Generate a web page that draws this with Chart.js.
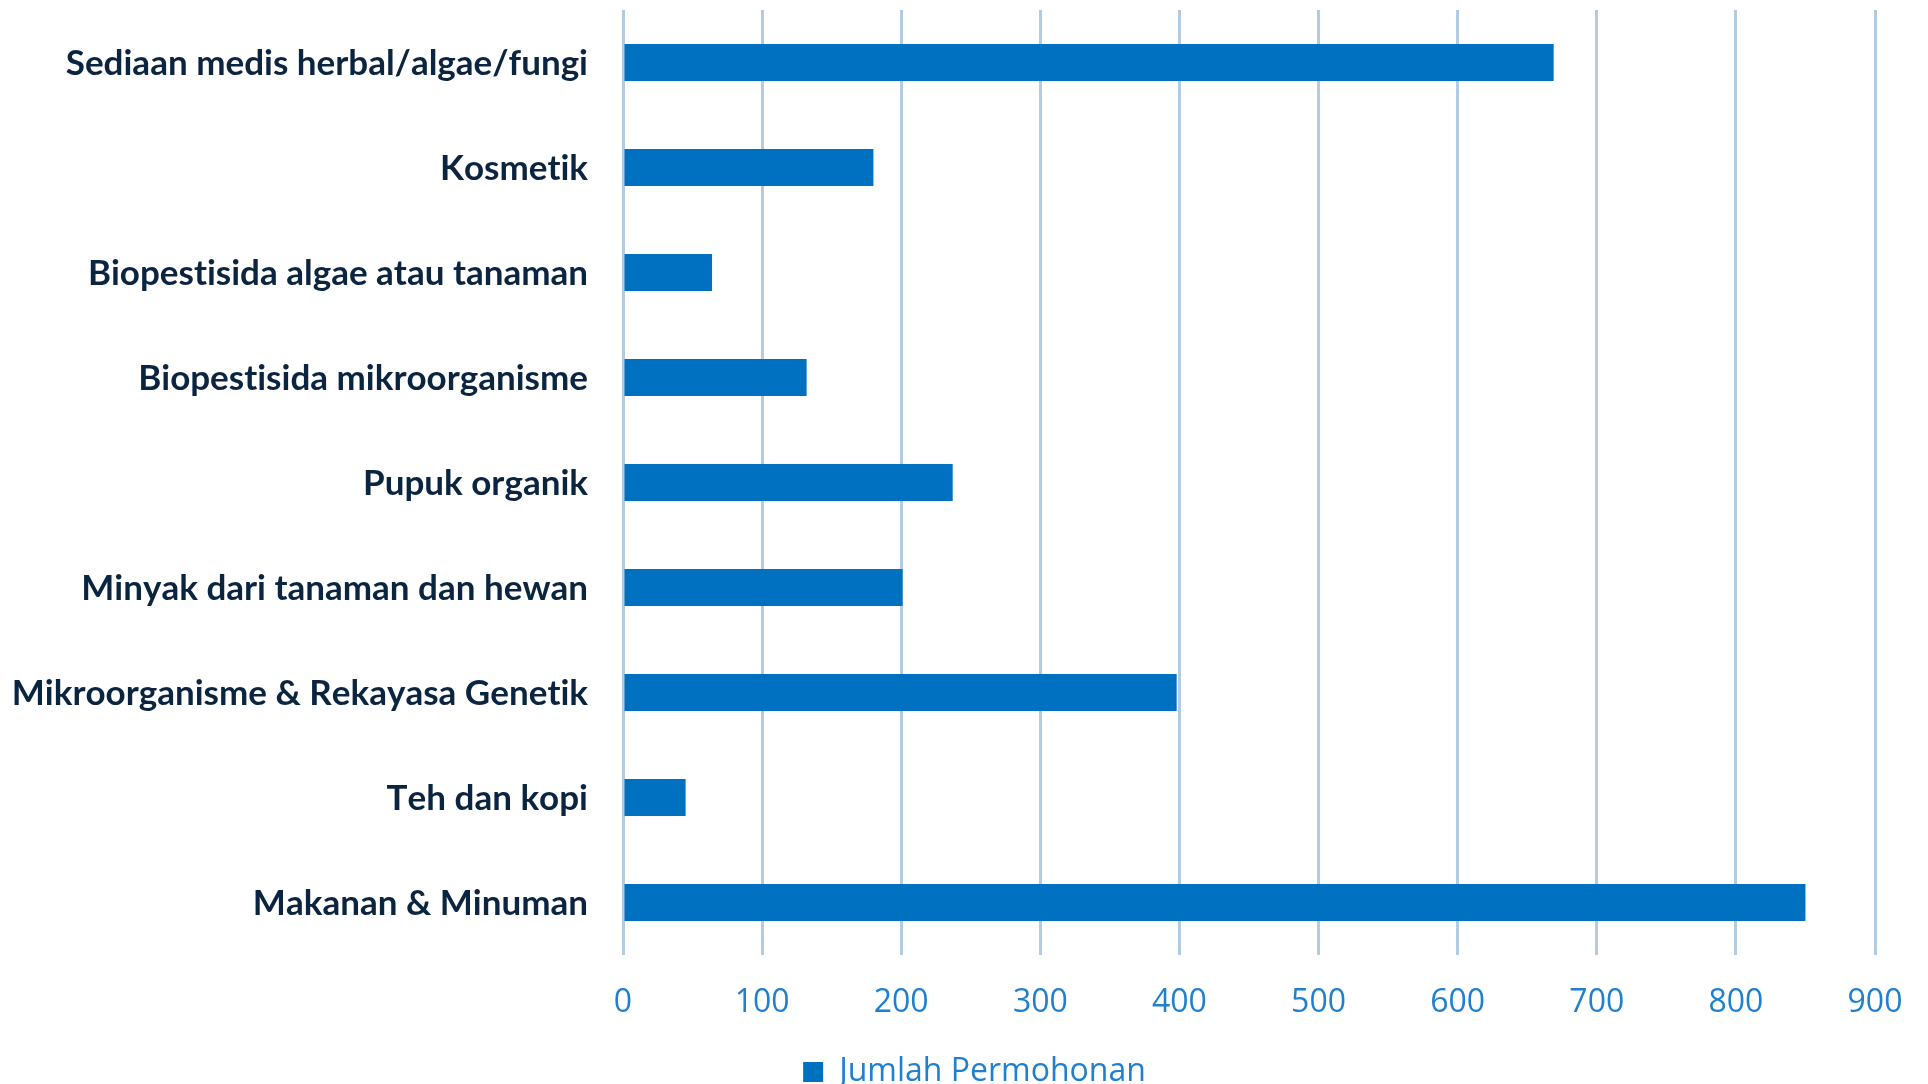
<!DOCTYPE html>
<html>
<head>
<meta charset="utf-8">
<script src="https://cdn.jsdelivr.net/npm/chart.js@4.4.1/dist/chart.umd.min.js"></script>
<style>
  html, body { margin: 0; padding: 0; background: #ffffff; overflow: hidden; }
  #wrap { width: 1928px; height: 1098px; }
</style>
</head>
<body>
<div id="wrap"><canvas id="c" width="1928" height="1098"></canvas></div>
<script>
const categories = [
  'Sediaan medis herbal/algae/fungi',
  'Kosmetik',
  'Biopestisida algae atau tanaman',
  'Biopestisida mikroorganisme',
  'Pupuk organik',
  'Minyak dari tanaman dan hewan',
  'Mikroorganisme & Rekayasa Genetik',
  'Teh dan kopi',
  'Makanan & Minuman'
];
const values = [669, 180, 64, 132, 237, 201, 398, 45, 850];
const seriesName = 'Jumlah Permohonan';
const xTicks = [0, 100, 200, 300, 400, 500, 600, 700, 800, 900];

const noLigatures = {
  id: 'noLigatures',
  beforeDraw(chart) {
    const ctx = chart.ctx;
    if ('textRendering' in ctx) ctx.textRendering = 'optimizeSpeed';
    if ('fontKerning' in ctx) ctx.fontKerning = 'none';
  }
};
const legendShift = {
  id: 'legendShift',
  afterLayout(chart) {
    if (chart.legend) { chart.legend.left += 74; }
  }
};

function draw() {
  new Chart(document.getElementById('c'), {
    type: 'bar',
    data: {
      labels: categories,
      datasets: [{
        label: seriesName,
        data: values,
        backgroundColor: '#0070C0',
        borderWidth: 0,
        barPercentage: 0.352,
        categoryPercentage: 1.0
      }]
    },
    plugins: [noLigatures, legendShift],
    options: {
      indexAxis: 'y',
      responsive: false,
      animation: false,
      devicePixelRatio: 1,
      layout: { padding: { top: 10, right: 53, left: 0, bottom: 0 } },
      plugins: {
        tooltip: { enabled: false },
        legend: {
          position: 'bottom',
          labels: {
            boxWidth: 20,
            boxHeight: 20,
            padding: 10,
            color: '#2080D0',
            font: { family: '"Open Sans"', size: 32 }
          }
        }
      },
      scales: {
        x: {
          min: 0,
          max: 900,
          afterBuildTicks: (s) => { s.ticks = xTicks.map(v => ({ value: v })); },
          afterFit: (s) => { s.height = 91; s.paddingLeft = 0; s.paddingRight = 0; },
          grid: { color: '#b3cce3', lineWidth: 3, drawTicks: false },
          border: { display: false },
          ticks: {
            padding: 29,
            color: '#2080D0',
            font: { family: '"Open Sans"', size: 32 },
            maxRotation: 0
          }
        },
        y: {
          afterFit: (s) => { s.width = 623; s.paddingTop = 0; s.paddingBottom = 0; },
          grid: { display: false, drawTicks: false },
          border: { display: false },
          ticks: {
            padding: 35,
            labelOffset: 1,
            color: '#0B2540',
            font: { family: 'Lato', size: 35, weight: 'bold' }
          }
        }
      }
    }
  });
}

Promise.all([
  document.fonts.load('bold 35px Lato'),
  document.fonts.load('32px "Open Sans"')
]).then(draw, draw);
</script>
</body>
</html>
